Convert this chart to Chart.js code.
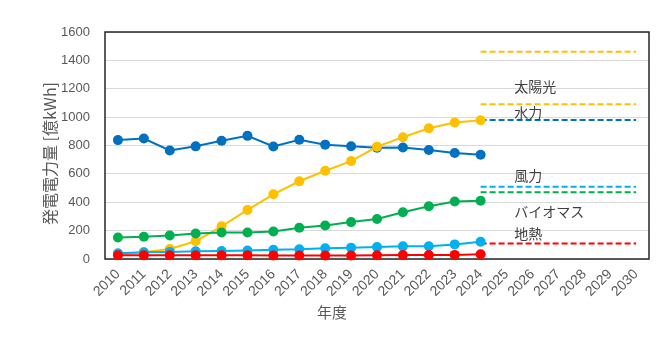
<!DOCTYPE html>
<html lang="ja">
<head>
<meta charset="utf-8">
<title>発電電力量</title>
<script src="https://cdn.jsdelivr.net/npm/chart.js"></script>
<style>
    body { margin: 0; background: #fff; }
    #chart-wrap { width: 657px; height: 338px; }
</style>
</head>
<body>
<div id="chart-wrap"><canvas id="power-chart" width="657" height="338"></canvas></div>
<script>
// data
const years = ['2010', '2011', '2012', '2013', '2014', '2015', '2016', '2017', '2018', '2019', '2020',
    '2021', '2022', '2023', '2024', '2025', '2026', '2027', '2028', '2029', '2030'];
const hydro = [838, 849, 765, 794, 833, 868, 793, 840, 806, 795, 784, 786, 768, 747, 735];
const solar = [35, 48, 70, 125, 230, 346, 456, 548, 622, 690, 792, 858, 922, 962, 978];
const biomass = [152, 157, 166, 180, 187, 187, 194, 220, 236, 260, 282, 330, 372, 405, 410];
const wind = [40, 47, 50, 55, 56, 60, 65, 68, 76, 80, 84, 89, 90, 103, 122];
const geothermal = [26, 26, 26, 26, 26, 26, 25, 25, 25, 25, 27, 28, 28, 29, 33];

// 2030 targets (dashed, 2024 -> 2030)
const targetStart = '2024';
const targetEnd = '2030';
const solarTargetHigh = 1460;
const solarTargetLow = 1090;
const hydroTarget = 980;
const windTarget = 510;
const biomassTarget = 470;
const geothermalTarget = 110;

// text labels on the right
const noteLabels = ['太陽光', '水力', '風力', 'バイオマス', '地熱'];
const noteValues = [1214, 1029, 585, 335, 176];
const noteIndex = 15.3;

const yTicks = [0, 200, 400, 600, 800, 1000, 1200, 1400, 1600];

const COLOR_HYDRO = '#0070C0';
const COLOR_SOLAR = '#FFC000';
const COLOR_BIOMASS = '#00B050';
const COLOR_WIND = '#00B0F0';
const COLOR_GEO = '#FF0000';

// actual series
function makeSeries(paramLabel, paramData, paramColor, paramOrder) {
    return {
        label: paramLabel,
        data: paramData,
        borderColor: paramColor,
        backgroundColor: paramColor,
        borderWidth: 2,
        pointRadius: 5,
        pointHoverRadius: 5,
        pointBorderWidth: 0,
        tension: 0,
        order: paramOrder,
        clip: 10,
    };
}

// target line
function makeTarget(paramValue, paramColor) {
    return {
        label: 'target',
        data: [{ x: targetStart, y: paramValue }, { x: targetEnd, y: paramValue }],
        borderColor: paramColor,
        borderWidth: 2,
        borderDash: [6, 3],
        pointRadius: 0,
        order: 10,
    };
}

// frame, axis titles and notes
const decoPlugin = {
    id: 'deco',
    beforeDatasetsDraw(chart) {
        let vCtx = chart.ctx;
        let vArea = chart.chartArea;
        vCtx.save();
        vCtx.strokeStyle = '#262626';
        vCtx.lineWidth = 1.5;
        vCtx.strokeRect(vArea.left, vArea.top, vArea.right - vArea.left, vArea.bottom - vArea.top);
        vCtx.restore();
    },
    afterDatasetsDraw(chart) {
        let vCtx = chart.ctx;
        let vArea = chart.chartArea;
        let vX = chart.scales.x;
        let vY = chart.scales.y;
        vCtx.save();
        // notes
        vCtx.fillStyle = '#404040';
        vCtx.font = '14px "Noto Sans CJK JP"';
        vCtx.textAlign = 'left';
        vCtx.textBaseline = 'middle';
        for (let i = 0; i < noteLabels.length; i++) {
            vCtx.fillText(noteLabels[i], vX.getPixelForValue(noteIndex), vY.getPixelForValue(noteValues[i]));
        }
        // y title
        vCtx.fillStyle = '#595959';
        vCtx.font = '16px "Noto Sans CJK JP"';
        vCtx.textAlign = 'center';
        vCtx.save();
        vCtx.translate(vArea.left - 55, (vArea.top + vArea.bottom) / 2 + 8);
        vCtx.rotate(-Math.PI / 2);
        vCtx.fillText('発電電力量 [億kWh]', 0, 0);
        vCtx.restore();
        // x title
        vCtx.font = '15px "Noto Sans CJK JP"';
        vCtx.fillText('年度', vArea.left + 227, vArea.bottom + 53);
        vCtx.restore();
    },
};

let vCanvas = document.getElementById('power-chart').getContext('2d');

new Chart(vCanvas, {
    type: 'line',
    data: {
        labels: years,
        datasets: [
            makeSeries('地熱', geothermal, COLOR_GEO, 0),
            makeSeries('風力', wind, COLOR_WIND, 1),
            makeSeries('バイオマス', biomass, COLOR_BIOMASS, 2),
            makeSeries('太陽光', solar, COLOR_SOLAR, 3),
            makeSeries('水力', hydro, COLOR_HYDRO, 4),
            makeTarget(solarTargetHigh, COLOR_SOLAR),
            makeTarget(solarTargetLow, COLOR_SOLAR),
            makeTarget(hydroTarget, COLOR_HYDRO),
            makeTarget(windTarget, COLOR_WIND),
            makeTarget(biomassTarget, COLOR_BIOMASS),
            makeTarget(geothermalTarget, COLOR_GEO),
        ],
    },
    options: {
        responsive: false,
        animation: false,
        layout: { padding: { top: 32, right: 8, left: 0, bottom: 0 } },
        plugins: {
            legend: { display: false },
            tooltip: { enabled: false },
        },
        scales: {
            x: {
                type: 'category',
                offset: true,
                grid: { display: false, drawTicks: false },
                border: { display: false },
                ticks: {
                    autoSkip: false,
                    minRotation: 45,
                    maxRotation: 45,
                    padding: 7,
                    color: '#595959',
                    font: { family: '"Liberation Sans"', size: 14 },
                },
                afterFit: (scale) => { scale.height = 79; },
            },
            y: {
                min: 0,
                max: 1600,
                afterBuildTicks: (scale) => { scale.ticks = yTicks.map((v) => ({ value: v })); },
                grid: { color: '#d9d9d9', lineWidth: 1, drawTicks: false },
                border: { display: false },
                ticks: {
                    padding: 15,
                    color: '#595959',
                    font: { family: '"Liberation Sans"', size: 13 },
                    callback: (value) => String(value),
                },
                afterFit: (scale) => { scale.width = 105; },
            },
        },
    },
    plugins: [decoPlugin],
});
</script>
</body>
</html>
